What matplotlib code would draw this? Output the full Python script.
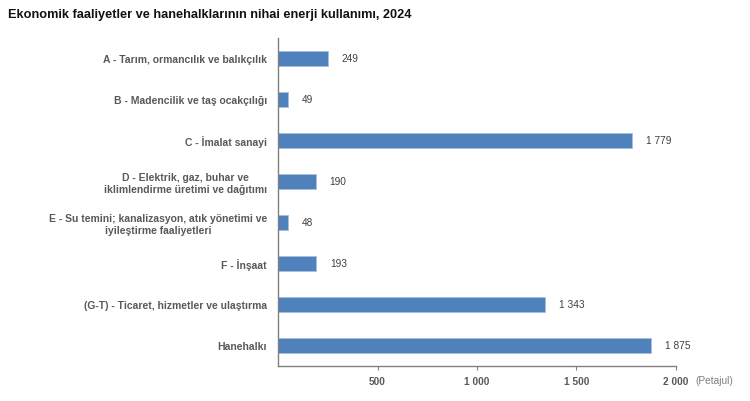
import matplotlib
matplotlib.use('Agg')
import matplotlib.pyplot as plt

plt.rcParams['font.family'] = ['Liberation Sans', 'DejaVu Sans']

categories = [
    'A - Tarım, ormancılık ve balıkçılık',
    'B - Madencilik ve taş ocakçılığı',
    'C - İmalat sanayi',
    'D - Elektrik, gaz, buhar ve\niklimlendirme üretimi ve dağıtımı',
    'E - Su temini; kanalizasyon, atık yönetimi ve\niyileştirme faaliyetleri',
    'F - İnşaat',
    '(G-T) - Ticaret, hizmetler ve ulaştırma',
    'Hanehalkı',
]
values = [249, 49, 1779, 190, 48, 193, 1343, 1875]
value_labels = ['249', '49', '1 779', '190', '48', '193', '1 343', '1 875']
xticks = [500, 1000, 1500, 2000]
xtick_labels = ['500', '1 000', '1 500', '2 000']

fig = plt.figure(figsize=(7.5, 4.02), dpi=100)
ax = fig.add_axes([0.3707, 0.0871, 0.5306, 0.8159])

ypos = list(range(len(categories)))
ax.barh(ypos, values, height=0.35, color='#4F81BD', edgecolor='#A7BFDE', linewidth=0.6)
ax.set_ylim(len(categories) - 0.5, -0.5)
ax.set_xlim(0, 2000)

for y, v, lab in zip(ypos, values, value_labels):
    ax.text(v + 70, y, lab, va='center', ha='left', fontsize=7.3, color='#404040')

ax.set_yticks(ypos)
ax.set_yticklabels(categories, fontsize=7.5, color='#595959', fontweight='bold',
                   ha='right', multialignment='center')
ax.tick_params(axis='y', length=0, pad=8)
ax.set_xticks(xticks)
ax.set_xticklabels(xtick_labels, fontsize=7.3, color='#595959', fontweight='bold')
ax.tick_params(axis='x', length=3, direction='out', color='#808080', pad=4)

for s in ['top', 'right']:
    ax.spines[s].set_visible(False)
for s in ['left', 'bottom']:
    ax.spines[s].set_color('#808080')
    ax.spines[s].set_linewidth(1.0)

ax.text(1.05, -0.043, '(Petajul)', transform=ax.transAxes, fontsize=7.3,
        color='#7F7F7F', ha='left', va='center')

fig.text(0.011, 0.963, 'Ekonomik faaliyetler ve hanehalklarının nihai enerji kullanımı, 2024',
         fontsize=9.2, fontweight='bold', color='#111111', ha='left', va='center')

fig.savefig('out.png', dpi=100, facecolor='white')
